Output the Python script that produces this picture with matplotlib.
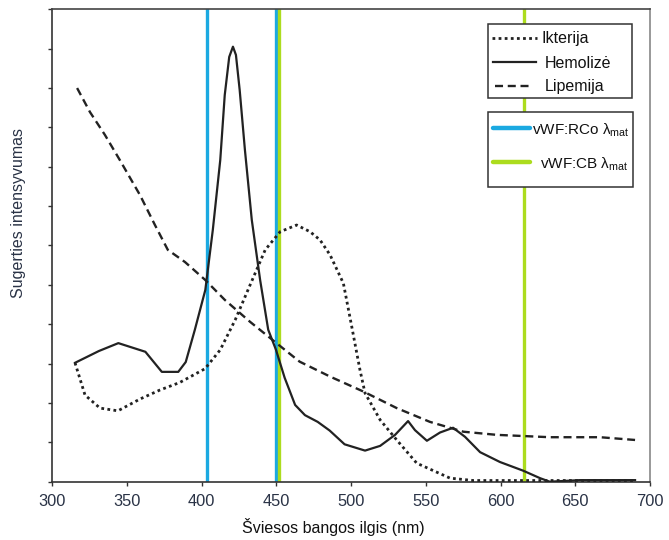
import matplotlib
matplotlib.use("Agg")
import matplotlib.pyplot as plt
from matplotlib.lines import Line2D
from matplotlib.patches import Rectangle

plt.rcParams["mathtext.fontset"] = "custom"
plt.rcParams["mathtext.rm"] = "Liberation Sans"
plt.rcParams["mathtext.it"] = "Liberation Sans"
plt.rcParams["font.family"] = ["Liberation Sans", "DejaVu Sans"]

# ---------------- data ----------------
hem_x = [315.2, 331.2, 344.2, 362.3, 373.3, 384.3, 389.3, 395.4, 402.4, 407.4, 412.4,
         415.4, 418.4, 420.9, 422.9, 425.4, 428.9, 433.5, 439.1, 444.5, 449.7, 455.5,
         462.5, 469.1, 477.6, 485.6, 495.6, 509.3, 519.4, 529.4, 538.1, 542.7, 550.7,
         559.5, 568.2, 576.2, 586.3, 599.6, 615.1, 626.4, 632.9, 653.0, 690.0]
hem_y = [3.02, 3.32, 3.52, 3.30, 2.79, 2.79, 3.04, 3.86, 4.87, 6.39, 8.17, 9.82, 10.79,
         11.05, 10.84, 9.95, 8.43, 6.65, 5.12, 3.86, 3.35, 2.64, 1.95, 1.69, 1.52, 1.30,
         0.95, 0.79, 0.91, 1.19, 1.54, 1.31, 1.04, 1.25, 1.37, 1.14, 0.75, 0.50, 0.28,
         0.09, 0.0, 0.04, 0.04]

ikt_x = [315.2, 321.9, 331.9, 343.9, 358.7, 372.1, 385.3, 402.2, 412.4, 422.4, 432.4,
         442.5, 452.5, 463.5, 472.5, 479.2, 485.9, 494.8, 500.4, 505.9, 509.3, 519.4,
         530.5, 543.9, 566.2, 581.8, 690.0]
ikt_y = [3.02, 2.20, 1.87, 1.80, 2.10, 2.33, 2.52, 2.87, 3.35, 4.11, 5.00, 5.89, 6.35,
         6.52, 6.35, 6.14, 5.76, 5.04, 3.94, 2.84, 2.25, 1.57, 1.06, 0.47, 0.09, 0.03, 0.03]

lip_x = [316.6, 325.2, 335.2, 345.2, 358.7, 368.7, 377.3, 388.8, 402.2, 415.4, 432.4,
         449.7, 465.5, 485.9, 508.2, 530.5, 552.7, 575.1, 597.4, 633.1, 666.6, 690.0]
lip_y = [10.0, 9.39, 8.81, 8.17, 7.28, 6.52, 5.89, 5.58, 5.13, 4.62, 4.06, 3.53, 3.05,
         2.67, 2.29, 1.87, 1.52, 1.27, 1.19, 1.13, 1.13, 1.06]

rco_lines = [403.7, 449.7]
cb_lines = [451.7, 615.5]

labels = ["Ikterija", "Hemolizė", "Lipemija"]
vwf_labels = [r"vWF:RCo $\mathrm{λ}_{\mathrm{mat}}$", r"vWF:CB $\mathrm{λ}_{\mathrm{mat}}$"]
xticks = [300, 350, 400, 450, 500, 550, 600, 650, 700]

# ---------------- style ----------------
blue = "#1BA9E1"
green = "#ACDC1E"
txtc = "#2a3346"
ink = "#222222"
W, H = 669, 540
dotted = (0, (1, 1.2))
dashed = (0, (3.4, 2))

def fx(px):
    return px / W

def fy(py):
    return 1 - py / H

fig = plt.figure(figsize=(W / 100, H / 100), dpi=100)
ax = fig.add_axes([fx(52.3), fy(481.7), (650 - 52.3) / W, (481.7 - 9.3) / H])

for xv in rco_lines:
    ax.axvline(xv, color=blue, lw=2.4, zorder=1)
for xv in cb_lines:
    ax.axvline(xv, color=green, lw=2.4, zorder=1)

ax.plot(ikt_x, ikt_y, color=ink, lw=2.0, linestyle=dotted, zorder=3)
ax.plot(hem_x, hem_y, color=ink, lw=1.6, zorder=3)
ax.plot(lip_x, lip_y, color=ink, lw=1.7, linestyle=dashed, zorder=3)

ax.set_xlim(300, 700)
ax.set_ylim(0, 12)
ax.set_xticks(xticks)
ax.set_xticklabels([str(t) for t in xticks], fontsize=11.8, color=txtc)
ax.set_yticks(range(0, 13))
ax.set_yticklabels([])
ax.tick_params(axis="both", direction="out", length=3.2, width=1, color="#333333")
ax.tick_params(axis="x", pad=6.0)

for s in ["left", "bottom"]:
    ax.spines[s].set_color("#333333")
    ax.spines[s].set_linewidth(1.2)
ax.spines["top"].set_color("#444444")
ax.spines["top"].set_linewidth(1.2)
ax.spines["right"].set_color("#999999")
ax.spines["right"].set_linewidth(1.4)

fig.text(fx(333.5), fy(533.3), "Šviesos bangos ilgis (nm)", fontsize=11.5,
         color="#111111", ha="center", va="baseline")
fig.text(fx(19), fy(213), "Sugerties intensyvumas", rotation=90, fontsize=11.5,
         color=txtc, ha="center", va="center")

# ---------------- legends (drawn as boxes above the plot lines) ----------------
tf = fig.transFigure

def box(x0, y0, x1, y1):
    r = Rectangle((fx(x0), fy(y1)), fx(x1) - fx(x0), fy(y0) - fy(y1),
                  transform=tf, facecolor="white", edgecolor="#333333",
                  lw=1.1, zorder=10, clip_on=False)
    ax.add_patch(r)

def hline(x0, x1, y, **kw):
    ln = Line2D([fx(x0), fx(x1)], [fy(y), fy(y)], transform=tf, zorder=11,
                clip_on=False, **kw)
    ax.add_line(ln)

box(488.3, 24.3, 631.7, 98.3)
hline(491.7, 536.7, 38.3, color=ink, lw=2.0, linestyle=dotted)
hline(493, 536, 62.3, color=ink, lw=1.6)
hline(495, 531.7, 85.7, color=ink, lw=1.7, linestyle=dashed)
for lab, tx, ty in zip(labels, [541.7, 545, 545], [43.3, 67.7, 91]):
    ax.text(fx(tx), fy(ty), lab, transform=tf, fontsize=11.5, color="#111111",
            va="baseline", ha="left", zorder=12, clip_on=False)

box(488, 112.3, 632.7, 186.7)
hline(493.3, 529.5, 128.3, color=blue, lw=3.2, solid_capstyle="round")
hline(493.3, 529.5, 162.3, color=green, lw=3.2, solid_capstyle="round")
for lab, tx, ty in zip(vwf_labels, [532.5, 540], [134.3, 168.3]):
    ax.text(fx(tx), fy(ty), lab, transform=tf, fontsize=11, color="#111111",
            va="baseline", ha="left", zorder=12, clip_on=False)

fig.savefig("out.png", dpi=100)
